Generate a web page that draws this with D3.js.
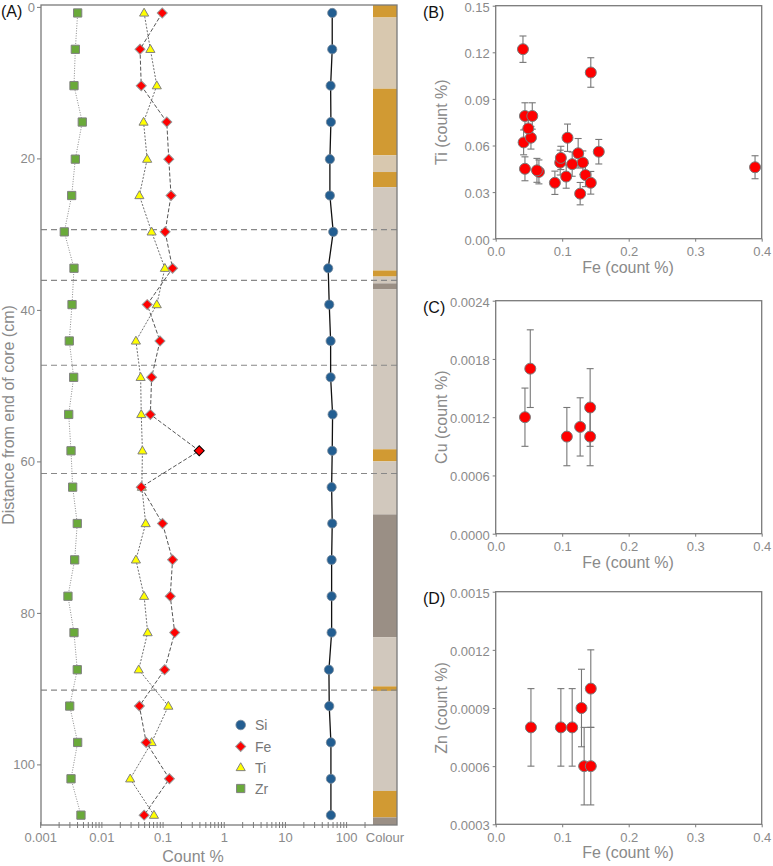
<!DOCTYPE html>
<html><head><meta charset="utf-8">
<script src="https://cdn.jsdelivr.net/npm/d3@7"></script>
<style>
body{margin:0;background:#fff;}
svg{font-family:"Liberation Sans",Arial,sans-serif;display:block;}
</style></head>
<body><svg id="c" width="773" height="866"></svg>
<script>
// ---------- DATA ----------
const depth = [0.8,5.6,10.4,15.2,20.1,24.9,29.7,34.5,39.3,44.1,48.9,53.8,58.6,63.4,68.2,73.0,77.8,82.6,87.5,92.3,97.1,101.9,106.7];
const si = [58.2,58.2,54.8,55.4,53.3,53.3,60.4,50.0,52.0,54.8,54.8,59.0,58.2,56.9,58.2,56.9,56.9,56.9,51.4,52.0,55.4,55.4,55.4];
const fe = [0.097,0.042,0.044,0.115,0.124,0.135,0.108,0.143,0.055,0.089,0.065,0.062,0.390,0.044,0.098,0.143,0.131,0.155,0.106,0.041,0.053,0.127,0.049];
const ti = [0.049,0.062,0.079,0.048,0.055,0.041,0.065,0.107,0.079,0.036,0.043,0.044,0.046,0.045,0.052,0.036,0.049,0.056,0.040,0.122,0.065,0.029,0.071];
const tiErr = [0.008,0.008,0.0085,0.0078,0.0095,0.0075,0.0088,0.0095,0.0085,0.0075,0.0077,0.0077,0.0074,0.0077,0.0075,0.0073,0.0075,0.0079,0.0075,0.0085,0.0073,0.0072,0.008];
const zr = [0.00402,0.00368,0.00350,0.00478,0.00368,0.00321,0.00243,0.00350,0.00325,0.00293,0.00346,0.00287,0.00313,0.00333,0.00396,0.00359,0.00279,0.00350,0.00396,0.00298,0.00402,0.00313,0.00455];
const boundaries = [29.4,36.1,47.3,61.6,90.2];
const colourTop = [-0.25,1.4,10.8,19.6,21.8,23.8,34.8,35.6,36.5,37.3,58.4,60.0,67.0,83.2,89.7,90.3,103.5,107.0];
const colourBottom = [1.4,10.8,19.6,21.8,23.8,34.8,35.6,36.5,37.3,58.4,60.0,67.0,83.2,89.7,90.3,103.5,107.0,108.0];
const colourClass = ["ochre","tan","ochre","tan","ochre","grey","ochre","grey","dark","grey","ochre","grey","dark","grey","ochre","grey","ochre","dark"];
const depthTicks = [0,20,40,60,80,100];
const countTicks = [0.001,0.01,0.1,1,10,100];
const countTickLabels = ["0.001","0.01","0.1","1","10","100"];
// panel C
const cuFe = [0.044,0.052,0.107,0.127,0.142,0.142];
const cu = [0.0012,0.0017,0.0010,0.0011,0.0013,0.0010];
const cuErr = [0.0003,0.0004,0.0003,0.0003,0.0004,0.0003];
// panel D
const znFe = [0.053,0.098,0.115,0.129,0.143,0.133,0.143];
const zn = [0.0008,0.0008,0.0008,0.0009,0.0010,0.0006,0.0006];
const znErr = [0.0002,0.0002,0.0002,0.0002,0.0002,0.0002,0.0002];
const feTicks = [0,0.1,0.2,0.3,0.4];
const tiTicks = [0,0.03,0.06,0.09,0.12,0.15];
const cuTicks = [0,0.0006,0.0012,0.0018,0.0024];
const znTicks = [0.0003,0.0006,0.0009,0.0012,0.0015];

// ---------- STYLE ----------
const AX = "#7a7a7a", TXT = "#8a8a8a";
const colourMap = {ochre:"#D19A33", tan:"#D8C8AF", grey:"#D1C8BD", dark:"#9A8F85"};
const svg = d3.select("#c");

// ---------- PANEL A ----------
const xA = d3.scaleLog().domain([0.001, 270]).range([40.7, 373]);
const yA = d3.scaleLinear().domain([-0.25, 108]).range([5, 825]);
const gA = svg.append("g");

// colour column
gA.selectAll("rect.col").data(colourTop).join("rect")
  .attr("x", 373).attr("width", 24)
  .attr("y", (d,i)=>yA(d)).attr("height", (d,i)=>yA(colourBottom[i])-yA(d))
  .attr("fill", (d,i)=>colourMap[colourClass[i]]);

// dashed boundaries
gA.selectAll("line.b").data(boundaries).join("line")
  .attr("x1", 41).attr("x2", 397).attr("y1", d=>yA(d)).attr("y2", d=>yA(d))
  .attr("stroke", "#888").attr("stroke-width", 1.1).attr("stroke-dasharray", "6,4");

// frame
gA.append("rect").attr("x", 41).attr("y", 5).attr("width", 356).attr("height", 820)
  .attr("fill", "none").attr("stroke", AX).attr("stroke-width", 1.3);

// y axis
const yAxisA = d3.axisLeft(yA).tickValues(depthTicks).tickSize(4).tickPadding(2);
const ya = gA.append("g").attr("transform", "translate(41,0)").call(yAxisA);
ya.select(".domain").remove();
ya.selectAll("line").attr("stroke", AX);
ya.selectAll("text").attr("fill", TXT).style("font-size", "13px").style("font-family", "Liberation Sans, Arial, sans-serif");

// x axis (log)
const minor = [];
for (let e=-3; e<=2; e++) for (let m=1; m<=9; m++) { const v = m*Math.pow(10,e); if (v<=270) minor.push(v); }
gA.selectAll("line.mt").data(minor).join("line")
  .attr("x1", d=>xA(d)).attr("x2", d=>xA(d))
  .attr("y1", 822).attr("y2", 828).attr("stroke", AX).attr("stroke-width", 1);
gA.selectAll("text.xl").data(countTicks).join("text")
  .attr("x", d=>xA(d)).attr("y", 842).attr("text-anchor", "middle")
  .attr("fill", TXT).style("font-size", "13px").text((d,i)=>countTickLabels[i]);
gA.append("text").attr("x", 385).attr("y", 842).attr("text-anchor", "middle")
  .attr("fill", TXT).style("font-size", "13px").text("Colour");
gA.append("text").attr("x", 193).attr("y", 862).attr("text-anchor", "middle")
  .attr("fill", TXT).style("font-size", "16px").text("Count %");
gA.append("text").attr("transform", "translate(14,415) rotate(-90)").attr("text-anchor", "middle")
  .attr("fill", TXT).style("font-size", "16px").text("Distance from end of core (cm)");
svg.append("text").attr("x", 1).attr("y", 17).attr("fill", "#111").style("font-size", "16px").text("(A)");

// lines
function profile(vals, stroke, dash, w) {
  const line = d3.line().x((d,i)=>xA(vals[i])).y((d,i)=>yA(depth[i]));
  gA.append("path").datum(depth).attr("d", line).attr("fill", "none")
    .attr("stroke", stroke).attr("stroke-width", w).attr("stroke-dasharray", dash);
}
profile(zr, "#8c8c8c", "1,1.5", 1);
profile(ti, "#6e6e6e", "2,1.5", 1);
profile(fe, "#555", "4,2", 1);
profile(si, "#111", null, 1.3);

const symSquare = d3.symbol().type(d3.symbolSquare).size(68);
const symDiamond = d3.symbol().type(d3.symbolSquare).size(50);
const symTri = d3.symbol().type(d3.symbolTriangle).size(36);

gA.selectAll("path.zr").data(depth).join("path")
  .attr("d", symSquare()).attr("transform", (d,i)=>`translate(${xA(zr[i])},${yA(d)})`)
  .attr("fill", "#6AAA3A").attr("stroke", "#808080").attr("stroke-width", 1);
gA.selectAll("path.ti").data(depth).join("path")
  .attr("d", symTri()).attr("transform", (d,i)=>`translate(${xA(ti[i])},${yA(d)+0.5})`)
  .attr("fill", "#FFFF00").attr("stroke", "#808080").attr("stroke-width", 1);
gA.selectAll("path.fe").data(depth).join("path")
  .attr("d", symDiamond()).attr("transform", (d,i)=>`translate(${xA(fe[i])},${yA(d)}) rotate(45)`)
  .attr("fill", "#FF0000").attr("stroke", (d,i)=>fe[i]>0.3?"#000":"#999").attr("stroke-width", 1);
gA.selectAll("circle.si").data(depth).join("circle")
  .attr("cx", (d,i)=>xA(si[i])).attr("cy", d=>yA(d)).attr("r", 4.6)
  .attr("fill", "#235E91").attr("stroke", "#7a8a9a").attr("stroke-width", 0.8);

// legend
const legY = [725, 746.5, 767.5, 788.5];
const leg = gA.append("g");
leg.append("circle").attr("cx", 240.7).attr("cy", legY[0]).attr("r", 4.8).attr("fill", "#235E91").attr("stroke", "#7a8a9a").attr("stroke-width", 0.8);
leg.append("path").attr("d", symDiamond()).attr("transform", `translate(240.7,${legY[1]}) rotate(45)`).attr("fill", "#FF0000").attr("stroke", "#999");
leg.append("path").attr("d", symTri()).attr("transform", `translate(240.7,${legY[2]+0.5})`).attr("fill", "#FFFF00").attr("stroke", "#808080");
leg.append("path").attr("d", symSquare()).attr("transform", `translate(240.7,${legY[3]})`).attr("fill", "#6AAA3A").attr("stroke", "#808080");
["Si","Fe","Ti","Zr"].forEach((t,i)=>{
  leg.append("text").attr("x", 255).attr("y", legY[i]+5).attr("fill", "#777").style("font-size", "14px").text(t);
});

// ---------- SCATTER PANELS ----------
function scatter(opt) {
  const g = svg.append("g");
  const x = d3.scaleLinear().domain([0,0.4]).range([opt.left, 761.7]);
  const y = d3.scaleLinear().domain(opt.ydom).range([opt.bottom, opt.top]);
  g.append("rect").attr("x", opt.left).attr("y", opt.top).attr("width", 761.7-opt.left).attr("height", opt.bottom-opt.top)
    .attr("fill", "none").attr("stroke", AX).attr("stroke-width", 1.3);
  const xa = g.append("g").attr("transform", `translate(0,${opt.bottom})`)
    .call(d3.axisBottom(x).tickValues(feTicks).tickFormat(d3.format(".1f")).tickSize(3).tickPadding(5));
  const yaa = g.append("g").attr("transform", `translate(${opt.left},0)`)
    .call(d3.axisLeft(y).tickValues(opt.yticks).tickFormat(d3.format(opt.yfmt)).tickSize(3).tickPadding(3));
  [xa, yaa].forEach(a=>{
    a.select(".domain").remove();
    a.selectAll("line").attr("stroke", AX);
    a.selectAll("text").attr("fill", TXT).style("font-size", "13px").style("font-family", "Liberation Sans, Arial, sans-serif");
  });
  yaa.selectAll("text").attr("dy", "0.42em");
  g.append("text").attr("x", 628).attr("y", opt.bottom+34).attr("text-anchor", "middle")
    .attr("fill", TXT).style("font-size", "16px").text("Fe (count %)");
  g.append("text").attr("transform", `translate(447,${(opt.top+opt.bottom)/2}) rotate(-90)`).attr("text-anchor", "middle")
    .attr("fill", TXT).style("font-size", "16px").text(opt.ytitle);
  g.append("text").attr("x", 423).attr("y", opt.top+12).attr("fill", "#111").style("font-size", "16px").text(opt.label);
  // error bars
  const eb = g.selectAll("g.eb").data(opt.xs).join("g");
  eb.append("line").attr("x1", (d)=>x(d)).attr("x2", d=>x(d))
    .attr("y1", (d,i)=>y(opt.ys[i]-opt.err[i])).attr("y2", (d,i)=>y(opt.ys[i]+opt.err[i]))
    .attr("stroke", "#777").attr("stroke-width", 1.1);
  [-1,1].forEach(s=>{
    eb.append("line").attr("x1", d=>x(d)-3.5).attr("x2", d=>x(d)+3.5)
      .attr("y1", (d,i)=>y(opt.ys[i]+s*opt.err[i])).attr("y2", (d,i)=>y(opt.ys[i]+s*opt.err[i]))
      .attr("stroke", "#777").attr("stroke-width", 1.1);
  });
  g.selectAll("circle.pt").data(opt.xs).join("circle")
    .attr("cx", d=>x(d)).attr("cy", (d,i)=>y(opt.ys[i])).attr("r", 5.5)
    .attr("fill", "#FF0000").attr("stroke", "#7a7a7a").attr("stroke-width", 1);
}
scatter({left:495.7, top:5.7, bottom:238.7, ydom:[0,0.15], yticks:tiTicks, yfmt:".2f", ytitle:"Ti (count %)", label:"(B)", xs:fe, ys:ti, err:tiErr});
scatter({left:495.7, top:300.7, bottom:533.7, ydom:[0,0.0024], yticks:cuTicks, yfmt:".4f", ytitle:"Cu (count %)", label:"(C)", xs:cuFe, ys:cu, err:cuErr});
scatter({left:495.7, top:591.7, bottom:824.3, ydom:[0.0003,0.0015], yticks:znTicks, yfmt:".4f", ytitle:"Zn (count %)", label:"(D)", xs:znFe, ys:zn, err:znErr});
</script></body></html>
